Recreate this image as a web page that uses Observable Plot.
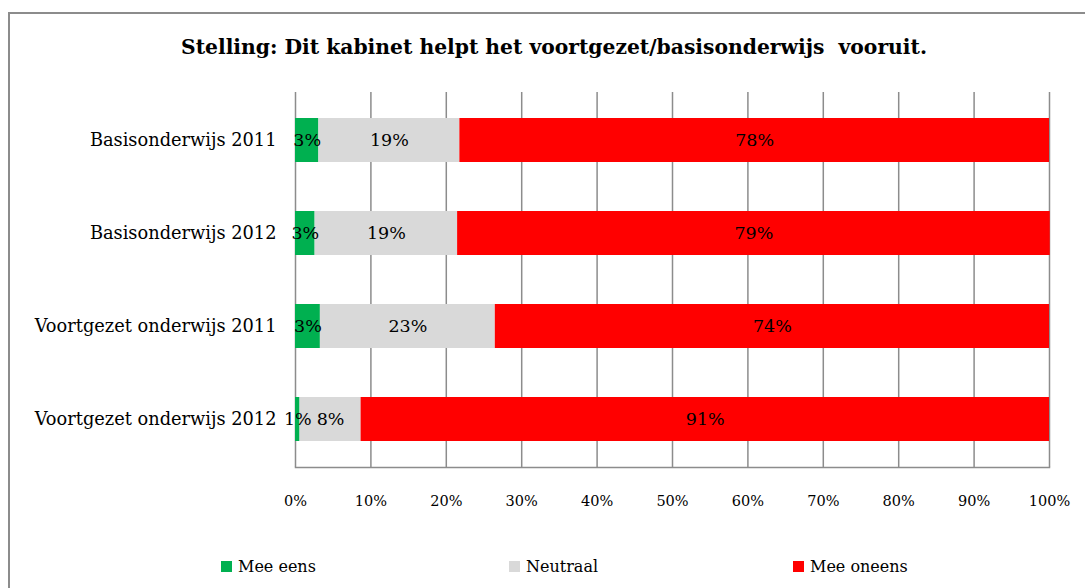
<!DOCTYPE html>
<html>
<head>
<meta charset="utf-8">
<script src="https://cdn.jsdelivr.net/npm/d3@7"></script>
<script src="https://cdn.jsdelivr.net/npm/@observablehq/plot@0.6"></script>
<style>
  html, body { margin: 0; padding: 0; background: #fff; }
  #page { position: relative; width: 1085px; height: 588px; overflow: hidden; font-family: "DejaVu Serif", serif; }
  #border { position: absolute; left: 8px; top: 12px; width: 1100px; height: 600px; border-left: 2px solid #8c8c8c; border-top: 2px solid #8c8c8c; }
  #title { position: absolute; left: 0; width: 1108px; top: 35px; text-align: center; font-weight: bold; font-size: 20.3px; color: #000; white-space: pre; }
  #chart { position: absolute; left: 0; top: 0; }
  .leg { position: absolute; top: 557px; font-size: 16px; color: #000; display: flex; align-items: center; white-space: nowrap; }
  .leg span.sw { display: inline-block; width: 11px; height: 11px; margin-right: 6px; }
</style>
</head>
<body>
<div id="page">
  <div id="border"></div>
  <div id="title">Stelling: Dit kabinet helpt het voortgezet/basisonderwijs  vooruit.</div>
  <div id="chart"></div>
  <div id="legend"></div>
</div>
<script>
// Categories (top to bottom)
const categories = ["Basisonderwijs 2011", "Basisonderwijs 2012", "Voortgezet onderwijs 2011", "Voortgezet onderwijs 2012"];
// Series
const seriesNames = ["Mee eens", "Neutraal", "Mee oneens"];
const seriesColors = ["#00b050", "#d9d9d9", "#ff0000"];
// Values (percent) per series, in category order
const meeEens   = [3.1, 2.6, 3.3, 0.6];
const neutraal  = [18.7, 18.9, 23.2, 8.1];
const meeOneens = [78.2, 78.6, 73.5, 91.3];
// X tick values
const xTicks = [0, 10, 20, 30, 40, 50, 60, 70, 80, 90, 100];

const seriesValues = [meeEens, neutraal, meeOneens];
const data = [];
categories.forEach((c, i) => {
  seriesNames.forEach((s, j) => {
    data.push({category: c, series: s, value: seriesValues[j][i]});
  });
});

const W = 1085, H = 520;
const chart = Plot.plot({
  width: W,
  height: H,
  marginTop: 92,
  marginBottom: H - 467,
  marginLeft: 295,
  marginRight: W - 1049,
  style: {fontFamily: "'DejaVu Serif', serif", fontSize: "14.5px", color: "#000", background: "transparent"},
  x: {domain: [0, 100], ticks: xTicks, tickFormat: d => d + "%", label: null},
  y: {domain: categories, paddingInner: 0.525, paddingOuter: 0.2625, label: null},
  color: {domain: seriesNames, range: seriesColors},
  marks: [
    Plot.ruleX(xTicks, {stroke: "#8c8c8c", strokeWidth: 1.5, strokeOpacity: 1}),
    Plot.barX(data, Plot.stackX({x: "value", y: "category", fill: "series", z: "series"})),
    Plot.frame({anchor: "bottom", stroke: "#8c8c8c", strokeWidth: 1.5}),
    Plot.text(data, Plot.stackX({x: "value", y: "category", z: "series",
      text: d => Math.round(d.value) + "%", fill: "#000", fontSize: 17.5})),
    Plot.axisX({anchor: "bottom", ticks: xTicks, tickFormat: d => d + "%", tickSize: 0, tickPadding: 28, label: null, fontSize: 14.5}),
    Plot.axisY({anchor: "left", tickSize: 0, tickPadding: 19, label: null, fontSize: 17.8})
  ]
});
document.getElementById("chart").appendChild(chart);

// Legend
const legendX = [221, 509, 793];
const legend = document.getElementById("legend");
seriesNames.forEach((s, i) => {
  const d = document.createElement("div");
  d.className = "leg";
  d.style.left = legendX[i] + "px";
  const sw = document.createElement("span");
  sw.className = "sw";
  sw.style.background = seriesColors[i];
  d.appendChild(sw);
  d.appendChild(document.createTextNode(s));
  legend.appendChild(d);
});
</script>
</body>
</html>
